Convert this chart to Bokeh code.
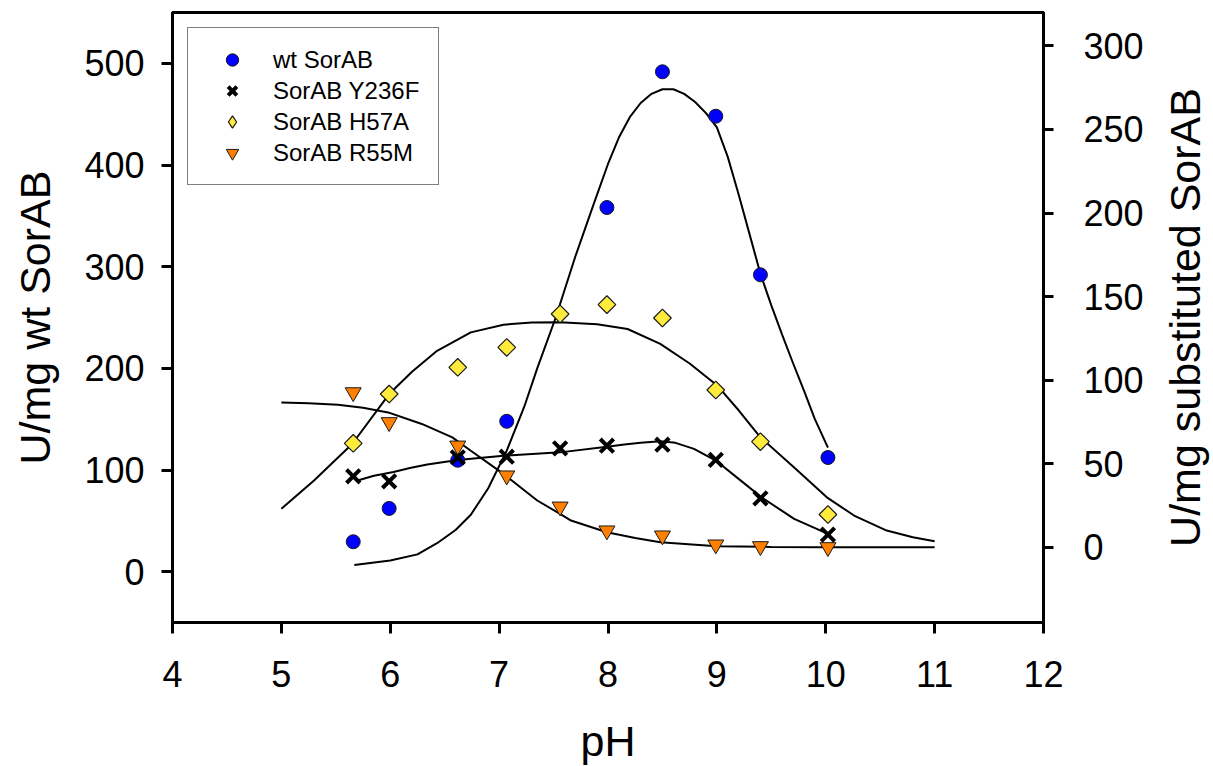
from bokeh.plotting import figure
from bokeh.layouts import row
from bokeh.models import Range1d, LinearAxis, FixedTicker, Legend, LegendItem
from bokeh.embed import file_html
from bokeh.resources import INLINE
import math

# ---- measured data (left axis: wt SorAB) ----
ph_wt = [5.66, 5.99, 6.62, 7.07, 7.99, 8.50, 8.99, 9.40, 10.02]
wt_sorab = [29.4, 62.2, 109.6, 147.9, 358.2, 491.7, 448.0, 292.0, 112.3]

# ---- measured data (right axis: substituted SorAB) ----
ph_sub = [5.66, 5.99, 6.62, 7.07, 7.56, 7.99, 8.50, 8.99, 9.40, 10.02]
y236f = [42.5, 39.5, 53.8, 54.2, 59.2, 60.8, 61.4, 52.3, 29.3, 7.6]
h57a = [62.2, 91.7, 107.7, 119.6, 139.6, 145.2, 137.2, 94.1, 63.2, 19.6]
r55m = [92.7, 74.8, 60.8, 42.9, 24.3, 10.0, 7.0, 1.6, 0.6, 0.0]

# ---- fitted curves ----
wt_fit_ph = [5.67, 6.0, 6.25, 6.43, 6.6, 6.74, 6.9, 7.07, 7.23, 7.35, 7.52, 7.7,
             7.87, 8.0, 8.1, 8.2, 8.3, 8.4, 8.5, 8.6, 8.7, 8.8, 8.9, 9.0, 9.1,
             9.2, 9.3, 9.4, 9.5, 9.6, 9.7, 9.8, 9.9, 10.02]
wt_fit = [6.5, 11, 17, 28, 41, 56, 82, 119, 162, 200, 250, 310,
          362, 401, 427, 447, 461, 470, 474.5, 474.5, 470, 462, 451, 437, 408,
          371, 332, 293, 262, 233, 205, 178, 150, 122]

y236f_fit_ph = [5.70, 5.85, 6.03, 6.18, 6.34, 6.62, 7.04, 7.56, 7.99, 8.15, 8.30,
                8.48, 8.62, 8.79, 8.99, 9.22, 9.41, 9.71, 10.02]
y236f_fit = [40, 42.8, 45, 47.4, 49.5, 52.3, 54.8, 56.8, 60.2, 61.5, 62.5,
             63.4, 62.5, 58.9, 51.9, 39.9, 29.9, 17, 8]

h57a_fit_ph = [5.0, 5.3, 5.65, 5.99, 6.2, 6.43, 6.74, 7.04, 7.3, 7.56, 7.9, 8.18,
               8.48, 8.75, 9.0, 9.2, 9.4, 9.71, 10.01, 10.26, 10.56, 10.8, 11.0]
h57a_fit = [23, 40, 61.8, 91.7, 105, 117.6, 128.6, 133.2, 134.5, 134.6, 133.5, 130.6,
            121.7, 110, 97, 82, 65.8, 47.8, 29.9, 19, 10, 6, 3.6]

r55m_fit_ph = [5.0, 5.25, 5.52, 5.75, 5.98, 6.29, 6.57, 6.74, 7.04, 7.35, 7.56, 7.66,
               7.99, 8.25, 8.48, 9.0, 9.5, 10.0, 11.0]
r55m_fit = [86.7, 86.2, 85.3, 83.5, 80.7, 73.8, 65.8, 57.8, 43.9, 28, 20, 16,
            9, 5.5, 3, 0.6, 0.2, 0, 0]

x_ticks = [4, 5, 6, 7, 8, 9, 10, 11, 12]
left_ticks = [0, 100, 200, 300, 400, 500]
right_ticks = [0, 50, 100, 150, 200, 250, 300]

FONT = "Liberation Sans"
FW, FH = 871, 610
RIGHT_BORDER = 104

p = figure(frame_width=FW, frame_height=FH,
           min_border_left=172, min_border_right=RIGHT_BORDER,
           min_border_top=12, min_border_bottom=144,
           x_range=Range1d(4, 12), y_range=Range1d(-50, 550),
           output_backend="svg", toolbar_location=None)
p.extra_y_ranges = {"sub": Range1d(-45, 320)}
p.background_fill_color = "white"
p.border_fill_color = "white"
p.outline_line_color = "black"
p.outline_line_width = 3
p.xgrid.grid_line_color = None
p.ygrid.grid_line_color = None

right_axis = LinearAxis(y_range_name="sub")
p.add_layout(right_axis, "right")

p.xaxis.ticker = FixedTicker(ticks=x_ticks)
p.yaxis[0].ticker = FixedTicker(ticks=left_ticks)
right_axis.ticker = FixedTicker(ticks=right_ticks)
p.xaxis.axis_label = "pH"
p.yaxis[0].axis_label = "U/mg wt SorAB"

for ax in [p.xaxis[0], p.yaxis[0], right_axis]:
    ax.axis_line_width = 3
    ax.axis_line_color = "black"
    ax.major_tick_line_width = 3
    ax.major_tick_line_color = "black"
    ax.major_tick_in = 0
    ax.major_tick_out = 11
    ax.minor_tick_line_color = None
    ax.major_label_text_font = FONT
    ax.major_label_text_font_size = "36px"
    ax.major_label_text_color = "black"
    ax.axis_label_text_font = FONT
    ax.axis_label_text_font_size = "43px"
    ax.axis_label_text_font_style = "normal"
    ax.axis_label_text_color = "black"

p.xaxis[0].major_label_standoff = 27
p.xaxis[0].axis_label_standoff = 27
p.yaxis[0].major_label_standoff = 17
p.yaxis[0].axis_label_standoff = 22
right_axis.major_tick_out = 10
right_axis.major_label_standoff = 30

# fitted curves
p.line(wt_fit_ph, wt_fit, line_color="black", line_width=2)
p.line(y236f_fit_ph, y236f_fit, line_color="black", line_width=2, y_range_name="sub")
p.line(h57a_fit_ph, h57a_fit, line_color="black", line_width=2, y_range_name="sub")
p.line(r55m_fit_ph, r55m_fit, line_color="black", line_width=2, y_range_name="sub")

# data points
r_wt = p.scatter(ph_wt, wt_sorab, marker="circle", size=14, fill_color="#0000ff",
                 line_color="#1a1a1a", line_width=1)
r_r55 = p.scatter(ph_sub, r55m, marker="inverted_triangle", size=16, fill_color="#ff8000",
                  line_color="#1a1a1a", line_width=1, y_range_name="sub")
# diamond used for the legend key (sits fully under the rotated squares)
r_h57_key = p.scatter(ph_sub, h57a, marker="diamond", size=11, fill_color="#ffeb3b",
                      line_color="#1a1a1a", line_width=1.2, y_range_name="sub")
r_h57 = p.scatter(ph_sub, h57a, marker="square", angle=math.pi / 4, size=12.5,
                  fill_color="#ffeb3b", line_color="#1a1a1a", line_width=1.2,
                  y_range_name="sub")
r_y236 = p.scatter(ph_sub, y236f, marker="x", size=19, line_color="black",
                   line_width=4, y_range_name="sub")

LEG_H = 2 * 16 + 4 * 31
legend = Legend(items=[
    LegendItem(label="wt SorAB", renderers=[r_wt]),
    LegendItem(label="SorAB Y236F", renderers=[r_y236]),
    LegendItem(label="SorAB H57A", renderers=[r_h57_key]),
    LegendItem(label="SorAB R55M", renderers=[r_r55]),
], location=(15, FH - 17 - LEG_H))
legend.border_line_color = "black"
legend.border_line_width = 1
legend.background_fill_color = "white"
legend.background_fill_alpha = 1
legend.label_text_font = FONT
legend.label_text_font_size = "24px"
legend.label_text_color = "black"
legend.padding = 16
legend.spacing = 0
legend.glyph_width = 56
legend.glyph_height = 31
legend.label_height = 24
legend.label_width = 149
legend.label_standoff = 13
legend.margin = 0
p.add_layout(legend)

# narrow companion figure that carries the right-hand title, which reads
# bottom-to-top and is centred on the plot frame (like the left title)
p_title = figure(frame_width=4, frame_height=FH,
                 min_border_left=1213 - (172 + FW + RIGHT_BORDER) - 5, min_border_right=1,
                 min_border_top=12, min_border_bottom=144,
                 x_range=Range1d(0, 1), y_range=Range1d(0, 1),
                 output_backend="svg", toolbar_location=None)
p_title.outline_line_color = None
p_title.background_fill_color = "white"
p_title.border_fill_color = "white"
p_title.xaxis.visible = False
p_title.xgrid.grid_line_color = None
p_title.ygrid.grid_line_color = None
ta = p_title.yaxis[0]
ta.ticker = FixedTicker(ticks=[])
ta.axis_line_color = None
ta.major_tick_line_color = None
ta.minor_tick_line_color = None
ta.major_tick_out = 0
ta.major_tick_in = 0
ta.major_label_standoff = 0
ta.axis_label = "U/mg substituted SorAB"
ta.axis_label_standoff = 0
ta.axis_label_text_font = FONT
ta.axis_label_text_font_size = "43px"
ta.axis_label_text_font_style = "normal"
ta.axis_label_text_color = "black"

layout = row(p, p_title)
open("out.html", "w").write(file_html(layout, INLINE))
